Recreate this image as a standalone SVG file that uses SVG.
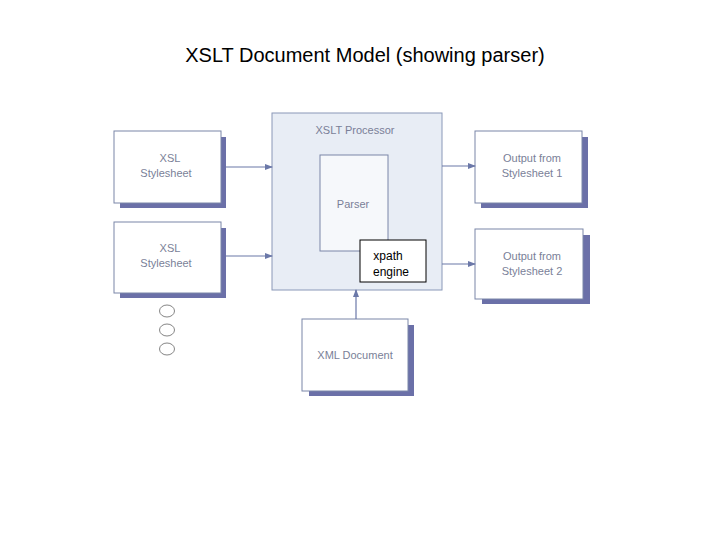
<svg xmlns="http://www.w3.org/2000/svg" width="720" height="540" viewBox="0 0 720 540">
<style>
.t{font-family:"Liberation Sans",Arial,sans-serif;font-size:11px;fill:#7a7f98;text-anchor:middle}
.sh{fill:#6b70a8}
.bx{fill:#fff;stroke:#7a86a8;stroke-width:1}
.c{stroke:#6b78a8;stroke-width:1.2;fill:none;marker-end:url(#a)}
</style>
<defs><marker id="a" markerWidth="8" markerHeight="8" refX="7" refY="4" orient="auto" markerUnits="userSpaceOnUse"><path d="M0,1 L8,4 L0,7 Z" fill="#6b78a8"/></marker></defs>
<rect width="720" height="540" fill="#fff"/>
<text x="365" y="62" font-family="'Liberation Sans',Arial,sans-serif" font-size="20" text-anchor="middle" fill="#000">XSLT Document Model (showing parser)</text>
<g id="proc"><rect x="272" y="113" width="170" height="177" fill="#e8edf5" stroke="#8a98b8"/><text class="t" x="355" y="134">XSLT Processor</text></g>
<g id="parser"><rect x="320" y="155" width="68" height="96" fill="#f6f8fb" stroke="#7a86a8"/><text class="t" x="353" y="208">Parser</text></g>
<g id="xpath"><rect x="360" y="240" width="66" height="42" fill="#fff" stroke="#000"/><text x="388" y="260" font-family="'Liberation Sans',Arial,sans-serif" font-size="12" text-anchor="middle">xpath</text><text x="391" y="276" font-family="'Liberation Sans',Arial,sans-serif" font-size="12" text-anchor="middle">engine</text></g>
<g id="xsl1"><rect class="sh" x="120" y="137" width="106" height="71"/><rect class="bx" x="114" y="131" width="107" height="72"/><text class="t" x="170" y="162">XSL</text><text class="t" x="166" y="177">Stylesheet</text></g>
<g id="xsl2"><rect class="sh" x="120" y="228" width="106" height="70"/><rect class="bx" x="114" y="222" width="107" height="71"/><text class="t" x="170" y="252">XSL</text><text class="t" x="166" y="267">Stylesheet</text></g>
<g id="out1"><rect class="sh" x="481" y="137" width="107" height="71"/><rect class="bx" x="475" y="131" width="107" height="72"/><text class="t" x="532" y="162">Output from</text><text class="t" x="532" y="177">Stylesheet 1</text></g>
<g id="out2"><rect class="sh" x="482" y="235" width="108" height="69"/><rect class="bx" x="475" y="229" width="108" height="70"/><text class="t" x="532" y="260">Output from</text><text class="t" x="532" y="275">Stylesheet 2</text></g>
<g id="xml"><rect class="sh" x="309" y="325" width="105" height="71"/><rect class="bx" x="302" y="319" width="106" height="72"/><text class="t" x="355" y="359">XML Document</text></g>
<g id="dots" fill="#fff" stroke="#666" stroke-width="0.8"><ellipse cx="167" cy="311" rx="7.5" ry="6"/><ellipse cx="167" cy="330" rx="7.5" ry="6"/><ellipse cx="167" cy="349" rx="7.5" ry="6"/></g>
<g id="connectors">
<line class="c" x1="226" y1="167" x2="272" y2="167"/>
<line class="c" x1="226" y1="256" x2="272" y2="256"/>
<line class="c" x1="442" y1="166" x2="475" y2="166"/>
<line class="c" x1="442" y1="264" x2="475" y2="264"/>
<line class="c" x1="356" y1="319" x2="356" y2="290"/>
</g>
</svg>
